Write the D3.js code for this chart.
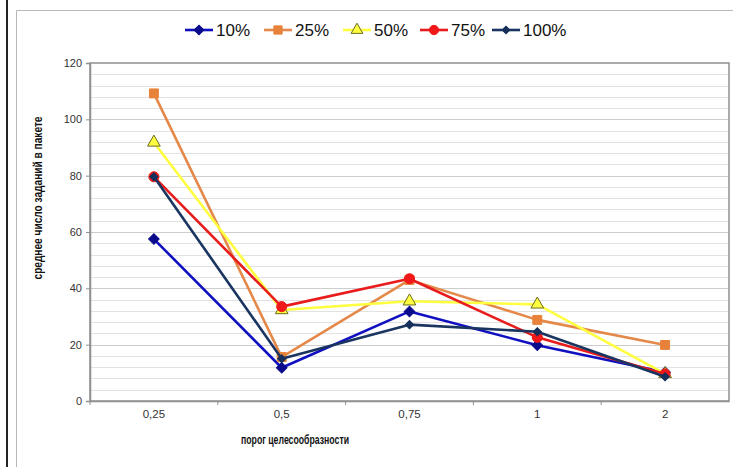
<!DOCTYPE html>
<html>
<head>
<meta charset="utf-8">
<script src="https://cdn.jsdelivr.net/npm/d3@7"></script>
<style>
  html, body { margin: 0; padding: 0; background: #fff; }
  svg { display: block; font-family: Arial, "Liberation Sans", sans-serif; }
</style>
</head>
<body>
<svg id="chart" width="734" height="467"></svg>
<script>
// Thresholds on the x axis
const categories = ["0,25", "0,5", "0,75", "1", "2"];

// Average number of tasks per batch, one array per series
const seriesNames = ["10%", "25%", "50%", "75%", "100%"];
const values10  = [57.5, 11.8, 31.8, 19.8, 10.2];
const values25  = [109.2, 15.6, 43.0, 28.8, 19.9];
const values50  = [91.8, 32.3, 35.4, 34.3, 9.6];
const values75  = [79.6, 33.5, 43.4, 22.6, 9.6];
const values100 = [79.6, 15.0, 27.1, 24.6, 8.6];

const yTicks = [0, 20, 40, 60, 80, 100, 120];

const series = [
  { name: seriesNames[0], values: values10,  line: "#1010c0", marker: "diamond", fill: "#0a0a8c", stroke: "#0a0a8c", size: 56 },
  { name: seriesNames[1], values: values25,  line: "#e4894a", marker: "square",  fill: "#e8823a", stroke: "#e8823a", size: 80 },
  { name: seriesNames[2], values: values50,  line: "#ffff40", marker: "triangle",fill: "#ffff40", stroke: "#6b6b20", size: 70 },
  { name: seriesNames[3], values: values75,  line: "#e81c1c", marker: "circle",  fill: "#f01818", stroke: "#f01818", size: 80 },
  { name: seriesNames[4], values: values100, line: "#1a3560", marker: "diamond", fill: "#15305a", stroke: "#15305a", size: 34 }
];

const svg = d3.select("#chart");

// Outer frame
svg.append("rect").attr("x", 6).attr("y", 0).attr("width", 2).attr("height", 467).attr("fill", "#222");
svg.append("path").attr("d", "M16.5,467 V10.5 H733").attr("fill", "none").attr("stroke", "#b8b8b8").attr("stroke-width", 1);

const plot = { left: 90, top: 63, right: 729, bottom: 401 };

const x = d3.scaleBand().domain(categories).range([plot.left, plot.right]).padding(0);
const y = d3.scaleLinear().domain([0, 120]).range([plot.bottom, plot.top]);

// Gridlines: minor every 4, major every 20
const minor = d3.range(4, 120, 4).filter(v => v % 20 !== 0);
svg.append("g").selectAll("line").data(minor).join("line")
  .attr("x1", plot.left).attr("x2", plot.right)
  .attr("y1", d => Math.round(y(d)) + 0.5).attr("y2", d => Math.round(y(d)) + 0.5)
  .attr("stroke", "#e2e2e2").attr("stroke-width", 1.2);
svg.append("g").selectAll("line").data(yTicks.filter(v => v > 0 && v < 120)).join("line")
  .attr("x1", plot.left).attr("x2", plot.right)
  .attr("y1", d => Math.round(y(d)) + 0.5).attr("y2", d => Math.round(y(d)) + 0.5)
  .attr("stroke", "#cdcdcd").attr("stroke-width", 1.2);

// Plot border
svg.append("rect")
  .attr("x", plot.left).attr("y", plot.top)
  .attr("width", plot.right - plot.left).attr("height", plot.bottom - plot.top)
  .attr("fill", "none").attr("stroke", "#909090").attr("stroke-width", 1.5);

// Y axis
const yAxis = d3.axisLeft(y).tickValues(yTicks).tickSize(4).tickPadding(4);
const gy = svg.append("g").attr("transform", `translate(${plot.left},0)`).call(yAxis);
gy.select(".domain").attr("stroke", "#909090").attr("stroke-width", 1.5);
gy.selectAll(".tick line").attr("stroke", "#909090");
gy.selectAll(".tick text").attr("font-size", 11).attr("fill", "#333").attr("font-family", "Arial, 'Liberation Sans', sans-serif");

// X axis with ticks at category boundaries
const gx = svg.append("g").attr("transform", `translate(0,${plot.bottom})`)
  .call(d3.axisBottom(x).tickSize(0).tickPadding(9));
gx.select(".domain").attr("stroke", "#909090").attr("stroke-width", 1.5);
gx.selectAll(".tick text").attr("font-size", 11.5).attr("fill", "#333").attr("font-family", "Arial, 'Liberation Sans', sans-serif");
svg.append("g").selectAll("line").data(categories).join("line")
  .attr("x1", d => x(d)).attr("x2", d => x(d))
  .attr("y1", plot.bottom).attr("y2", plot.bottom + 4)
  .attr("stroke", "#909090");

// Axis titles
svg.append("text").attr("x", 295).attr("y", 444).attr("text-anchor", "middle")
  .attr("font-size", 12).attr("font-weight", "bold").attr("fill", "#111")
  .attr("textLength", 108).attr("lengthAdjust", "spacingAndGlyphs")
  .text("порог целесообразности");
svg.append("text").attr("transform", "translate(42,198) rotate(-90)").attr("text-anchor", "middle")
  .attr("font-size", 12).attr("font-weight", "bold").attr("fill", "#111")
  .attr("textLength", 163).attr("lengthAdjust", "spacingAndGlyphs")
  .text("среднее число заданий в пакете");

const symbolType = { diamond: d3.symbolSquare, square: d3.symbolSquare, triangle: d3.symbolTriangle, circle: d3.symbolCircle };
const symbolRot = m => (m === "diamond" ? " rotate(45)" : "");
const cx = d => x(d) + x.bandwidth() / 2;

const line = d3.line().x((d, i) => cx(categories[i])).y(d => y(d));

series.forEach(s => {
  const g = svg.append("g");
  g.append("path").datum(s.values).attr("d", line)
    .attr("fill", "none").attr("stroke", s.line).attr("stroke-width", 2.6).attr("stroke-linejoin", "round");
  g.selectAll("path.m").data(s.values).join("path").attr("class", "m")
    .attr("transform", (d, i) => `translate(${cx(categories[i])},${y(d)})` + symbolRot(s.marker))
    .attr("d", d3.symbol().type(symbolType[s.marker]).size(s.size))
    .attr("fill", s.fill).attr("stroke", s.stroke).attr("stroke-width", 1);
});

// Legend
const legendX = [185, 264, 343, 420, 492];
const legendY = 30;
series.forEach((s, i) => {
  const g = svg.append("g").attr("transform", `translate(${legendX[i]},${legendY})`);
  g.append("line").attr("x1", 0).attr("x2", 28).attr("y1", 0).attr("y2", 0)
    .attr("stroke", s.line).attr("stroke-width", 2.6);
  g.append("path").attr("transform", "translate(14,0)" + symbolRot(s.marker))
    .attr("d", d3.symbol().type(symbolType[s.marker]).size(s.size * 0.85))
    .attr("fill", s.fill).attr("stroke", s.stroke).attr("stroke-width", 1);
  g.append("text").attr("x", 31).attr("y", 6).attr("font-size", 17).attr("fill", "#111")
    .text(s.name);
});
</script>
</body>
</html>
